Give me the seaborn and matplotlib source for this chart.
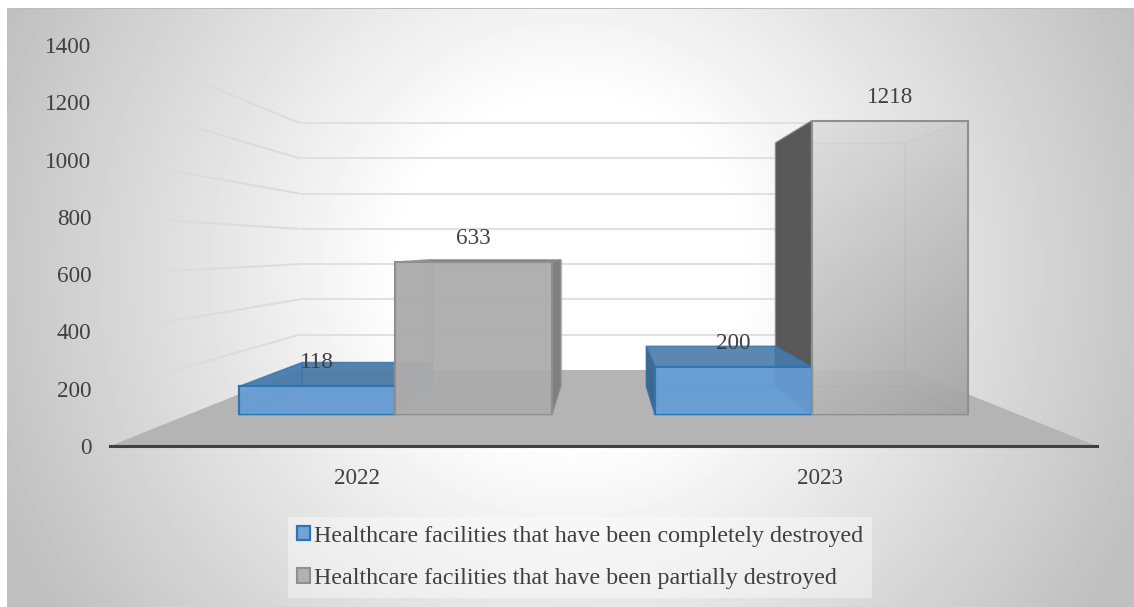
import numpy as np
import pandas as pd
import seaborn as sns
import matplotlib.pyplot as plt
from matplotlib.collections import LineCollection
from matplotlib.transforms import ScaledTranslation

# Valores
years = ['2022', '2023']
destroyed = [118, 200]
partial = [633, 1218]
series_names = ['Healthcare facilities that have been completely destroyed',
                'Healthcare facilities that have been partially destroyed']
yticks = [0, 200, 400, 600, 800, 1000, 1200, 1400]

W, H = 1134, 607
BLUE = '#6a9fd4'
GREY = '#a9a9a9'
TXT = '#404040'

# Perspectiva: r = 1 plano do eixo, r menor = mais fundo
HORIZON = 691.0
R_WALL = 0.616
R_FRONT = 0.843
R_BACK = 0.697

sns.set_style('white')
plt.rcParams['font.family'] = ['Liberation Serif', 'DejaVu Serif']


def proj(x, v, r):
    return 0.5 + (x - 0.5) * r, v * r + (1 - r) * HORIZON


def px_rect(left, right, top, bottom):
    return [left / W, 1 - bottom / H, (right - left) / W, (bottom - top) / H]


fig = plt.figure(figsize=(W / 100, H / 100), dpi=100)

# Fundo com gradiente radial
bg = fig.add_axes([0, 0, 1, 1], zorder=0)
yy, xx = np.mgrid[0:H, 0:W]
dist = np.hypot(xx - 570, yy - 270)
shade = 1 - 0.25 * np.clip((dist - 170) / 450, 0, 1)
shade[:8, :] = 1
shade[:, :7] = 1
shade[8:9, 7:] = 0.74
bg.imshow(shade, cmap='gray', vmin=0, vmax=1, aspect='auto', interpolation='nearest')
bg.axis('off')

# Eixo principal, plano da frente
ax = fig.add_axes(px_rect(110, 1097, 45, 446), zorder=1)
ax.patch.set_alpha(0)
ax.set_xlim(-0.5, 1.5)
ax.set_ylim(0, 1400)
ax.set_yticks(yticks)
ax.set_xticks([0, 1])
ax.set_xticklabels(years)
ax.tick_params(length=0, labelsize=16.7, labelcolor=TXT)
ax.tick_params(axis='y', pad=13.5)
ax.tick_params(axis='x', pad=16)
sns.despine(ax=ax, left=True)
ax.spines['bottom'].set_color('#404040')
ax.spines['bottom'].set_linewidth(2.2)
ax.xaxis.get_ticklabels()[1].set_transform(
    ax.xaxis.get_ticklabels()[1].get_transform() + ScaledTranslation(-30 / 100, 0, fig.dpi_scale_trans))

# Piso
fx, fy = zip(*[proj(-0.5, 0, 1), proj(1.5, 0, 1), proj(1.5, 0, R_WALL), proj(-0.5, 0, R_WALL)])
ax.fill(fx, fy, color='#b4b4b4', lw=0, zorder=1)

# Grade em perspectiva (parte esquerda some aos poucos)
grid_col = '#e0e0e0'
for v in yticks[1:]:
    rs = np.linspace(1, R_WALL, 25)
    pts = np.array([proj(-0.5, v, r) for r in rs])
    segs = np.stack([pts[:-1], pts[1:]], axis=1)
    cols = [(0.86, 0.86, 0.86, a) for a in np.clip(np.linspace(0.1, 1.8, 24), 0, 1)]
    ax.add_collection(LineCollection(segs, colors=cols, linewidths=1.4, zorder=1.5))
    gx, gy = zip(proj(-0.5, v, R_WALL), proj(1.5, v, R_WALL))
    ax.plot(gx, gy, color=grid_col, lw=1.4, zorder=1.5, solid_capstyle='butt')

# Faces da frente desenhadas pelo seaborn, num eixo no plano R_FRONT
half = 493.5 * R_FRONT
base_px = 248 + 198 * R_FRONT
top_px = base_px - 401 * R_FRONT
ax_bar = fig.add_axes(px_rect(603.5 - half, 603.5 + half, top_px, base_px), zorder=2)
ax_bar.patch.set_alpha(0)

df = pd.DataFrame({
    'year': years * 2,
    'value': destroyed + partial,
    'series': [series_names[0]] * 2 + [series_names[1]] * 2,
})
sns.barplot(data=df, x='year', y='value', hue='series', ax=ax_bar, width=0.752, gap=0,
            palette=[BLUE, GREY], saturation=1, legend=False)
ax_bar.set_xlim(-0.5, 1.5)
ax_bar.set_ylim(0, 1400)
ax_bar.axis('off')

blue_bars, grey_bars = ax_bar.containers[0], ax_bar.containers[1]

# estilo das faces: (cor, alpha) por caixa
face_styles = {
    (0, 0): dict(back=('#2e75b6', .25), left=('#2e75b6', .15), right=('#2e75b6', .3), top=('#4f7da8', .95), bottom=('#2e75b6', .2)),
    (1, 0): dict(back=('#2e75b6', .3), left=('#3a648c', .95), right=('#2e75b6', .15), top=('#4f7da8', .88), bottom=('#2e75b6', .25)),
    (0, 1): dict(back=('#a0a0a0', .35), left=('#9a9a9a', .55), right=('#7f7f7f', 1), top=('#808080', 1), bottom=('#999999', .3)),
    (1, 1): dict(back=('#d8d8d8', .35), left=('#565656', .98), right=('#c0c0c0', .3), top=('#dddddd', .25), bottom=('#999999', .1)),
}
edge_cols = {0: '#2e75b6', 1: '#8f8f8f'}


def draw_box(bar, i, s):
    left, right = bar.get_x(), bar.get_x() + bar.get_width()
    v = bar.get_height()
    st = face_styles[(i, s)]
    a, b = R_FRONT, R_BACK
    faces = {
        'back': [(left, 0, b), (right, 0, b), (right, v, b), (left, v, b)],
        'bottom': [(left, 0, a), (right, 0, a), (right, 0, b), (left, 0, b)],
        'left': [(left, 0, a), (left, v, a), (left, v, b), (left, 0, b)],
        'right': [(right, 0, a), (right, v, a), (right, v, b), (right, 0, b)],
        'top': [(left, v, a), (right, v, a), (right, v, b), (left, v, b)],
    }
    for name in ['back', 'bottom', 'top', 'left', 'right']:
        col, alpha = st[name]
        px, py = zip(*[proj(*c) for c in faces[name]])
        ax.fill(px, py, color=col, alpha=alpha, lw=0, zorder=draw_box.z)
        ax.fill(px, py, fc='none', ec=edge_cols[s], alpha=0.5, lw=1.0, zorder=draw_box.z)
        draw_box.z += 0.01


# ordem de pintura: de fora para o centro
draw_box.z = 3
draw_box(blue_bars[0], 0, 0)
draw_box(grey_bars[0], 0, 1)
draw_box(grey_bars[1], 1, 1)
draw_box(blue_bars[1], 1, 0)

for bar in blue_bars:
    bar.set_facecolor((0.40, 0.62, 0.84, 0.92))
    bar.set_edgecolor('#2e75b6')
    bar.set_linewidth(1.6)
grey_bars[0].set_facecolor((0.675, 0.675, 0.675, 0.92))
grey_bars[0].set_edgecolor('#8f8f8f')
grey_bars[0].set_linewidth(1.5)

# barra cinza de 2023 com gradiente
g = grey_bars[1]
g.set_facecolor('none')
g.set_edgecolor('#8f8f8f')
g.set_linewidth(1.5)
gu, gv = np.meshgrid(np.linspace(0, 1, 60), np.linspace(0, 1, 120))
tone = 0.87 - 0.16 * gv - 0.07 * gu
im = ax_bar.imshow(tone, cmap='gray', vmin=0, vmax=1, alpha=0.9, aspect='auto', origin='upper',
                   extent=(g.get_x(), g.get_x() + g.get_width(), 0, g.get_height()), zorder=0.5)
im.set_clip_path(g)
ax_bar.set_xlim(-0.5, 1.5)
ax_bar.set_ylim(0, 1400)

# Rotulos de dados
for cont in ax_bar.containers:
    for bar in cont:
        ax_bar.annotate(f'{bar.get_height():.0f}', (bar.get_x() + bar.get_width() / 2, bar.get_height()),
                        xytext=(0, 17), textcoords='offset points', ha='center', va='center',
                        fontsize=16.7, color=TXT, annotation_clip=False)

# Legenda
leg = ax_bar.legend(handles=[blue_bars[0], grey_bars[0]], labels=series_names, loc='upper left',
                    bbox_to_anchor=(288 / W, 1 - 517 / H), bbox_transform=fig.transFigure,
                    borderaxespad=0, frameon=True, fancybox=False, facecolor='white', framealpha=0.4,
                    edgecolor='none', fontsize=17.3, handlelength=0.56, handleheight=0.56,
                    handletextpad=0.17, labelspacing=0.9, borderpad=0.36, labelcolor=TXT)

fig.savefig('out.png', dpi=100)
